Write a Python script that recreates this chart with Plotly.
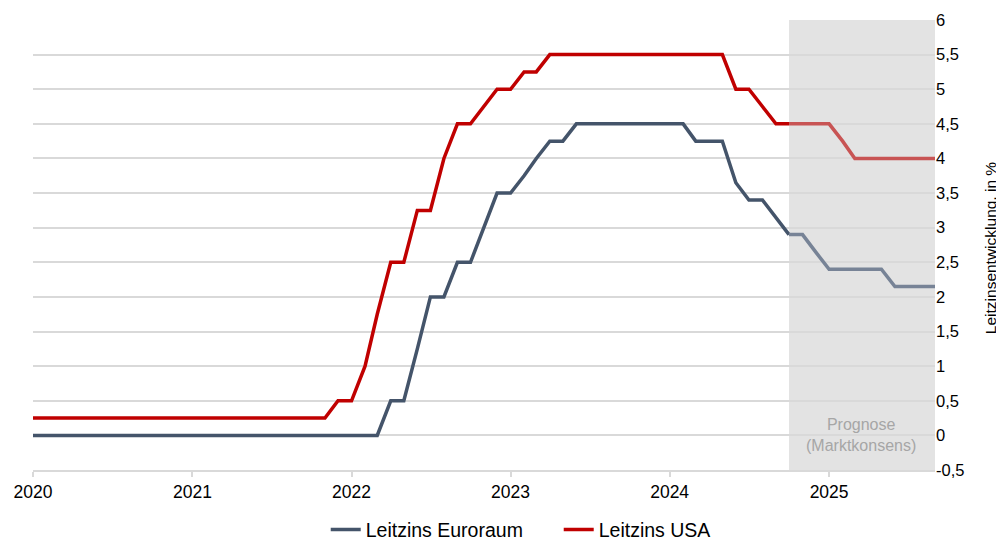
import pandas as pd
import plotly.graph_objects as go

# Monthly data, Jan 2020 .. Sep 2025 (69 months)
months = pd.date_range("2020-01-01", periods=69, freq="MS")

usa_hist = ([0.25] * 23 + [0.5, 0.5, 1.0, 1.75, 2.5, 2.5, 3.25, 3.25, 4.0, 4.5, 4.5,
            4.75, 5.0, 5.0, 5.25, 5.25] + [5.5] * 14 + [5.0, 5.0, 4.75, 4.5, 4.5])
euro_hist = ([0.0] * 27 + [0.5, 0.5, 1.25, 2.0, 2.0, 2.5, 2.5, 3.0, 3.5, 3.5, 3.75, 4.0,
             4.25, 4.25] + [4.5] * 9 + [4.25, 4.25, 4.25, 3.65, 3.4, 3.4, 3.15, 2.9])
# Forecast (market consensus), from Oct 2024 (index 57) to Sep 2025
usa_fc = [4.5, 4.5, 4.5, 4.5, 4.25] + [4.0] * 7
euro_fc = [2.9, 2.9, 2.65, 2.4, 2.4, 2.4, 2.4, 2.4, 2.15, 2.15, 2.15, 2.15]

fc_start = 57
y_ticks = [-0.5, 0, 0.5, 1, 1.5, 2, 2.5, 3, 3.5, 4, 4.5, 5, 5.5, 6]
y_tick_text = ["-0,5", "0", "0,5", "1", "1,5", "2", "2,5", "3", "3,5", "4", "4,5", "5", "5,5", "6"]

FONT = "Liberation Sans, Arial, sans-serif"
C_EURO = "#44546A"
C_USA = "#C00000"
C_EURO_FC = "#778396"
C_USA_FC = "#C85454"

fig = go.Figure()
fig.add_trace(go.Scatter(x=months[:len(euro_hist)], y=euro_hist, mode="lines",
                         name="Leitzins Euroraum", line=dict(color=C_EURO, width=3.5)))
fig.add_trace(go.Scatter(x=months[:len(usa_hist)], y=usa_hist, mode="lines",
                         name="Leitzins USA", line=dict(color=C_USA, width=3.5)))
fig.add_trace(go.Scatter(x=months[fc_start:], y=euro_fc, mode="lines", showlegend=False,
                         line=dict(color=C_EURO_FC, width=3.5)))
fig.add_trace(go.Scatter(x=months[fc_start:], y=usa_fc, mode="lines", showlegend=False,
                         line=dict(color=C_USA_FC, width=3.5)))

fig.add_shape(type="rect", xref="x", yref="y", x0=months[fc_start], x1=months[-1],
              y0=-0.5, y1=6, fillcolor="#E3E3E3", line=dict(width=0), layer="below")

fig.add_annotation(x=months[62] + pd.Timedelta(days=15), y=0, xref="x", yref="y",
                   text="Prognose<br>(Marktkonsens)", showarrow=False,
                   font=dict(family=FONT, size=16, color="#A6A6A6"), align="center")

fig.add_annotation(x=1.061, y=0.493, xref="paper", yref="paper", textangle=-90,
                   text="Leitzinsentwicklung, in %", showarrow=False,
                   xanchor="center", yanchor="middle",
                   font=dict(family=FONT, size=15.5, color="#000000"))

# page body adds an 8px offset; figure sized so the plot area lands as in the reference
fig.update_layout(
    width=996, height=532,
    margin=dict(l=25, r=69, t=12, b=70, autoexpand=False),
    paper_bgcolor="white", plot_bgcolor="white",
    font=dict(family=FONT, color="#000000"),
    showlegend=True,
    legend=dict(orientation="h", x=0.319, xanchor="left", xref="container",
                y=0.019, yanchor="middle", yref="container",
                entrywidth=188, entrywidthmode="pixels",
                font=dict(family=FONT, size=19.5), tracegroupgap=0),
)
fig.update_xaxes(
    range=[months[0], months[-1]], type="date", automargin=False,
    tick0="2020-01-01", dtick="M12", tickformat="%Y",
    showgrid=False, showline=True, linecolor="#D9D9D9", linewidth=1.5,
    ticks="outside", ticklen=5, tickcolor="#D9D9D9", tickwidth=1.5,
    tickfont=dict(family=FONT, size=17.5, color="#000000"),
)
fig.update_yaxes(
    range=[-0.5, 6], side="right", tickvals=y_ticks, ticktext=y_tick_text,
    automargin=False,
    showgrid=True, gridcolor="#D9D9D9", gridwidth=1.5, zeroline=False,
    tickfont=dict(family=FONT, size=16.5, color="#000000"),
)

fig.write_html("out.html")
